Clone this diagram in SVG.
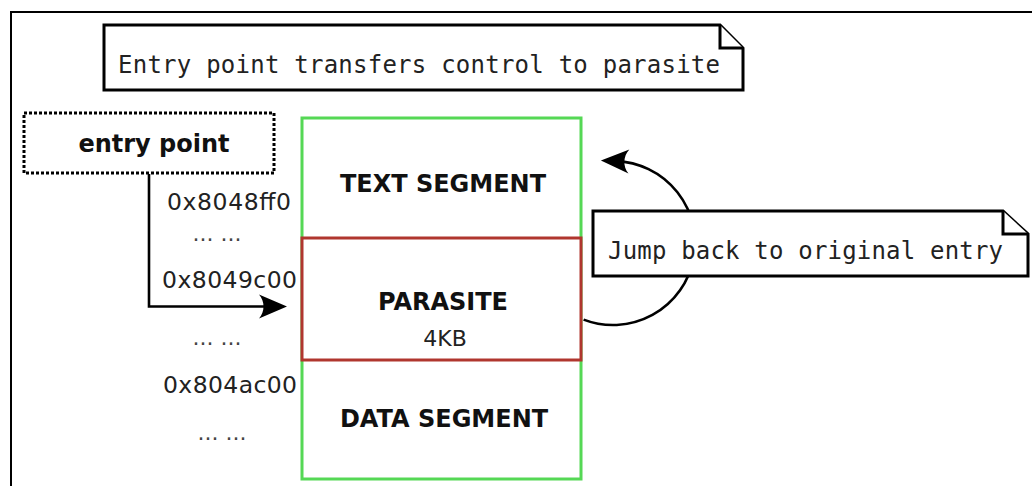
<svg xmlns="http://www.w3.org/2000/svg" width="1032" height="486" viewBox="0 0 1032 486">
<style>
.frame{fill:none;stroke:#000;stroke-width:2}
.note{fill:#fff;stroke:#000;stroke-width:3;stroke-linejoin:miter}
.mono{font-family:"DejaVu Sans Mono","Liberation Mono",monospace;font-size:24px;fill:#222}
.bold{font-family:"DejaVu Sans","Liberation Sans",sans-serif;font-weight:bold;font-size:24px;fill:#111;text-anchor:middle}
.reg{font-family:"DejaVu Sans","Liberation Sans",sans-serif;font-size:22px;fill:#222}
.addr{font-family:"DejaVu Sans","Liberation Sans",sans-serif;font-size:23.5px;fill:#222}
.dots{font-family:"DejaVu Sans","Liberation Sans",sans-serif;font-size:22px;fill:#444;text-anchor:middle}
.conn{fill:none;stroke:#000;stroke-width:2.6}
</style>
<defs>
<marker id="arrow" markerUnits="userSpaceOnUse" orient="auto" refX="0" refY="0" markerWidth="40" markerHeight="40" viewBox="-20 -20 40 40" overflow="visible">
<path d="M15,0 L-13,-12 C-7,-5 -7,5 -13,12 Z" fill="#000"/>
</marker>
</defs>
<rect width="1032" height="486" fill="#fff"/>
<path class="frame" d="M11,490 V12 H1040"/>

<g id="memory">
<rect x="302" y="118" width="279" height="361" fill="#fff" stroke="#55d855" stroke-width="3"/>
<text class="bold" x="443" y="192">TEXT SEGMENT</text>
<text class="bold" x="444" y="427">DATA SEGMENT</text>
</g>
<g id="parasite">
<rect x="302" y="238" width="279" height="122" fill="#fff" stroke="#b0362e" stroke-width="3"/>
<text class="bold" x="443" y="310">PARASITE</text>
<text class="reg" x="445" y="346" text-anchor="middle">4KB</text>
</g>

<g id="addresses">
<text class="addr" x="167" y="210" textLength="124">0x8048ff0</text>
<text class="dots" x="217" y="241">... ...</text>
<text class="addr" x="162" y="288" textLength="135">0x8049c00</text>
<text class="dots" x="217" y="345">... ...</text>
<text class="addr" x="163" y="393" textLength="134">0x804ac00</text>
<text class="dots" x="222" y="440">... ...</text>
</g>

<g id="connectors">
<path class="conn" d="M149,174 V306.5 H272" marker-end="url(#arrow)"/>
<path class="conn" d="M583.6,319.6 A82,82 0 1 0 615.9,161.1" marker-end="url(#arrow)"/>
</g>

<g id="entry-point">
<rect x="24" y="113" width="250" height="60" fill="#fff" stroke="#000" stroke-width="3" stroke-dasharray="3 2"/>
<text class="bold" x="154" y="152">entry point</text>
</g>

<g id="note-top">
<path class="note" d="M104,25 H720 L743,48 V90 H104 Z"/>
<path class="note" d="M720,25 V48 H743"/>
<text class="mono" x="118" y="73" textLength="602">Entry point transfers control to parasite</text>
</g>

<g id="note-jump">
<path class="note" d="M593,211 H1003 L1028,234 V276 H593 Z"/>
<path class="note" d="M1003,211 V234 H1028"/>
<text class="mono" x="608" y="259" textLength="395">Jump back to original entry</text>
</g>
</svg>
